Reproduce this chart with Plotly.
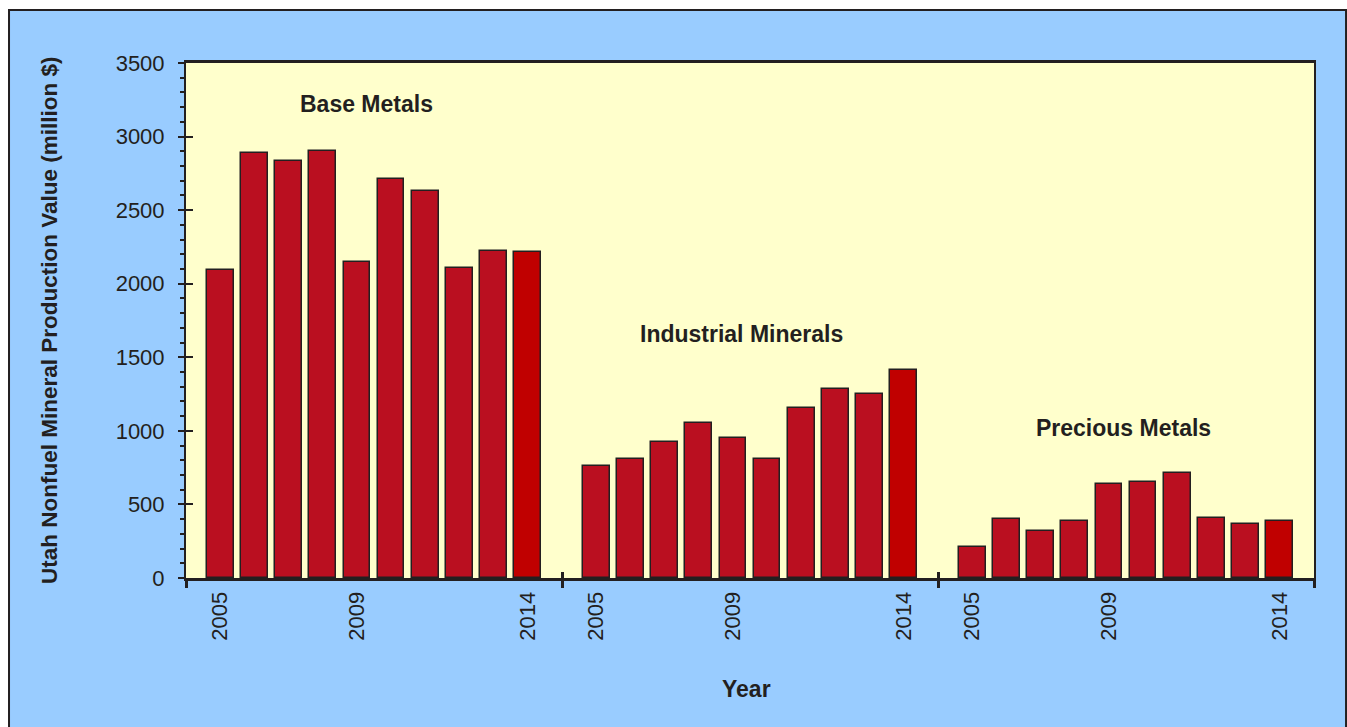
import plotly.graph_objects as go

years = [2005, 2006, 2007, 2008, 2009, 2010, 2011, 2012, 2013, 2014]
groups = ["Base Metals", "Industrial Minerals", "Precious Metals"]
base_metals = [2095, 2890, 2832, 2905, 2145, 2714, 2630, 2108, 2220, 2215]
industrial_minerals = [762, 810, 924, 1054, 951, 809, 1156, 1282, 1250, 1416]
precious_metals = [213, 403, 322, 390, 637, 655, 714, 406, 369, 390]
tick_years = [2005, 2009, 2014]

series = [base_metals, industrial_minerals, precious_metals]

BAR = "#BA0F20"
BAR_LAST = "#C00000"
INK = "#231F20"
FONT = "Liberation Sans, Arial, sans-serif"

fig = go.Figure()

xs, ys, cols = [], [], []
tickvals, ticktext = [], []
seps = [-1]
for g, vals in enumerate(series):
    off = g * (len(years) + 1)
    for i, v in enumerate(vals):
        xs.append(off + i)
        ys.append(v)
        cols.append(BAR_LAST if i == len(vals) - 1 else BAR)
        if years[i] in tick_years:
            tickvals.append(off + i)
            ticktext.append(str(years[i]))
    seps.append(off + len(years))

fig.add_trace(go.Bar(
    x=xs, y=ys, width=0.78,
    marker=dict(color=cols, line=dict(color=INK, width=1.5)),
    hoverinfo="y", showlegend=False,
))
# empty helper trace so the overlay axes (inner halves of the cross ticks) are drawn
fig.add_trace(go.Scatter(x=[None], y=[None], xaxis="x2", yaxis="y2",
                         showlegend=False, hoverinfo="skip"))

xr = [seps[0], seps[-1]]

fig.update_layout(
    width=1347, height=727,
    margin=dict(l=186, r=33, t=63, b=149),
    paper_bgcolor="white",
    plot_bgcolor="rgba(0,0,0,0)",
    font=dict(family=FONT, color=INK, size=22),
    bargap=0,
    xaxis=dict(
        range=xr, showgrid=False, zeroline=False,
        tickmode="array", tickvals=tickvals, ticktext=ticktext,
        tickangle=-90, ticks="", ticklabelstandoff=2,
        tickfont=dict(size=22, color=INK),
        showline=True, linecolor=INK, linewidth=3, mirror=True,
        minor=dict(tickmode="array", tickvals=seps, ticks="outside",
                   ticklen=7, tickwidth=3, tickcolor=INK),
    ),
    xaxis2=dict(
        range=xr, overlaying="x", anchor="y", showgrid=False, zeroline=False,
        tickmode="array", tickvals=seps, ticks="inside",
        ticklen=6, tickwidth=3, tickcolor=INK, showticklabels=False,
    ),
    yaxis=dict(
        range=[0, 3500], dtick=500, showgrid=False, zeroline=False,
        ticks="outside", ticklen=6, tickwidth=2, tickcolor=INK,
        ticklabelstandoff=9, tickfont=dict(size=22, color=INK),
        showline=True, linecolor=INK, linewidth=2, mirror=True,
        minor=dict(dtick=100, ticks="outside", ticklen=4, tickwidth=2, tickcolor=INK),
    ),
    yaxis2=dict(
        range=[0, 3500], overlaying="y", anchor="x", side="left",
        showgrid=False, zeroline=False, dtick=500,
        ticks="inside", ticklen=7, tickwidth=2, tickcolor=INK, showticklabels=False,
    ),
)

# blue frame behind the chart, then the pale yellow plotting area
fig.add_shape(type="rect", xref="paper", yref="paper",
              x0=-0.1569, x1=1.0284, y0=-0.32, y1=1.1029,
              fillcolor="#99CCFF", line=dict(color=INK, width=2), layer="below")
fig.add_shape(type="rect", xref="paper", yref="paper",
              x0=0, x1=1, y0=0, y1=1,
              fillcolor="#FFFFCC", line=dict(width=0), layer="below")

label_pos = [(0.1596, 0.9204), (0.4929, 0.4738), (0.8307, 0.2913)]
for name, (ax, ay) in zip(groups, label_pos):
    fig.add_annotation(x=ax, y=ay, xref="paper", yref="paper", text="<b>%s</b>" % name,
                       showarrow=False, font=dict(size=23, color=INK),
                       xanchor="center", yanchor="middle")

fig.add_annotation(x=(746 - 186) / 1128, y=(578 - 689) / 515, xref="paper", yref="paper",
                   text="<b>Year</b>", showarrow=False, font=dict(size=23, color=INK),
                   xanchor="center", yanchor="middle")
fig.add_annotation(x=(49 - 186) / 1128, y=(578 - 320) / 515, xref="paper", yref="paper",
                   text="<b>Utah Nonfuel Mineral Production Value (million $)</b>",
                   textangle=-90, showarrow=False, font=dict(size=22.5, color=INK),
                   xanchor="center", yanchor="middle")

fig.write_html("out.html",
               config={"displayModeBar": False},
               post_script="document.body.style.margin='0';document.body.style.overflow='hidden';")
